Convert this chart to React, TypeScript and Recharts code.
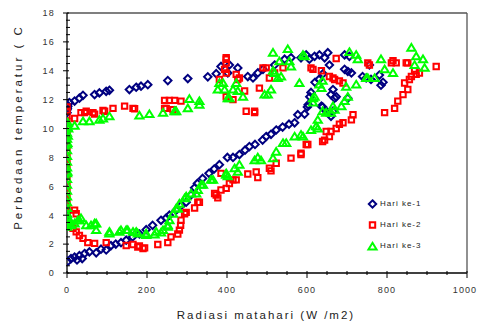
import React from "react";
import { ScatterChart, Scatter, XAxis, YAxis, Label } from "recharts";

// Radiasi matahari (W/m2), Perbedaan temperatur (C)
const day1Points: [number, number][] = [
  [2, 0.8], [10, 1.0], [19, 1.1], [25, 0.9], [31, 1.2], [38, 1.0], [44, 1.35], [56, 1.46], [73, 1.4], [85, 1.65],
  [98, 1.6], [110, 1.9], [122, 2.0], [135, 2.1], [148, 2.27], [164, 2.5], [181, 2.7], [198, 3.0], [214, 3.3],
  [235, 3.65], [248, 3.8], [256, 4.0], [273, 4.35], [285, 4.65], [298, 4.9], [310, 5.4], [319, 5.9], [326, 6.2],
  [339, 6.55], [355, 6.9], [368, 7.2], [381, 7.5], [401, 8.0], [415, 8.0], [431, 8.2], [445, 8.5], [456, 8.75],
  [470, 8.9], [489, 9.2], [498, 9.45], [510, 9.6], [523, 9.9], [539, 10.1], [555, 10.3], [569, 10.4], [577, 10.96],
  [594, 11.0], [601, 11.5], [603, 11.65], [607, 12.2], [610, 12.5],
  [620, 13.2], [630, 13.4], [640, 13.8], [656, 14.4], [652, 15.25], [644, 14.9], [631, 15.1], [619, 15.0], [606, 14.8],
  [598, 15.1], [585, 14.9], [560, 14.9], [544, 14.8], [519, 14.4], [490, 14.1], [477, 13.85], [465, 13.5], [452, 13.6],
  [427, 14.2], [406, 14.4], [402, 13.85], [385, 14.3], [373, 13.8], [352, 13.58], [302, 13.46], [252, 13.32],
  [202, 13.04], [185, 12.93], [173, 12.86], [156, 12.7], [106, 12.65], [98, 12.58], [81, 12.47], [69, 12.35],
  [40, 12.3], [31, 12.1], [19, 11.9], [6, 11.8], [0, 11.65], [0, 11.5], [1, 11.4], [0, 11.3], [2, 11.55], [0, 11.1],
  [0, 3.9], [0, 4.2],
  [694, 15.1], [706, 15.0], [694, 14.1], [702, 13.95], [711, 13.85], [739, 13.6], [748, 13.5], [756, 14.4],
  [760, 13.4], [781, 13.7], [785, 13.0], [790, 13.2],
  [636, 11.55], [656, 11.1], [665, 11.2], [660, 12.35], [665, 12.7], [669, 12.1], [673, 12.2], [702, 12.1],
  [639, 11.5], [648, 11.2], [660, 10.85],
];

const day2Points: [number, number][] = [
  [0, 11.5], [0, 11.2], [0, 10.9], [0, 10.5], [0, 10.0], [0, 9.5], [0, 9.0], [0, 8.5], [0, 8.0], [0, 7.5],
  [0, 7.0], [0, 6.5], [0, 6.0], [0, 5.5], [0, 5.0], [0, 4.5], [0, 4.2],
  [19, 4.35], [23, 4.1], [15, 3.1], [23, 2.85], [31, 2.6], [40, 2.4], [52, 2.1], [69, 2.05], [98, 2.1],
  [148, 1.9], [165, 1.97], [177, 1.8], [181, 1.88], [190, 1.7], [194, 1.74], [227, 1.97], [252, 2.1], [260, 2.5],
  [277, 2.7], [281, 2.97], [284, 3.3], [285, 3.65], [294, 4.1], [298, 4.2], [319, 4.5], [327, 4.9], [331, 4.9],
  [369, 5.5], [373, 5.4], [377, 5.2], [385, 5.75], [398, 5.86], [406, 6.2], [415, 6.45], [423, 6.45], [452, 6.85],
  [473, 7.0], [477, 6.6], [506, 7.25], [510, 7.07], [523, 7.6], [560, 7.95], [585, 8.2], [585, 8.3], [598, 8.9],
  [602, 8.9], [639, 9.1], [644, 9.2], [648, 9.8], [656, 9.45], [660, 9.8], [673, 10.0], [681, 10.3], [690, 10.4],
  [711, 10.6], [715, 10.96], [385, 6.9],
  [19, 10.7], [35, 11.1], [44, 11.1], [48, 11.2], [65, 11.1], [69, 11.0], [90, 11.25], [94, 11.2], [115, 11.4],
  [144, 11.55], [165, 11.4], [169, 11.37], [244, 11.95], [256, 11.95], [269, 11.95], [285, 11.9], [244, 11.4],
  [248, 11.4], [265, 11.3],
  [381, 13.4], [394, 14.1], [398, 14.8], [398, 14.9], [398, 14.55], [398, 13.85], [398, 12.2], [415, 12.0],
  [423, 13.75], [427, 13.4], [431, 13.5], [444, 12.6], [448, 11.2], [469, 11.2], [469, 11.1], [481, 12.8],
  [490, 14.2], [498, 14.2], [506, 13.5], [519, 13.85], [540, 14.2], [610, 14.2], [615, 14.1], [636, 14.0],
  [656, 13.6], [669, 13.4], [673, 14.85], [681, 13.3], [665, 13.5], [690, 13.15], [752, 14.55], [756, 14.4],
  [811, 14.55], [823, 14.55], [848, 14.55], [815, 14.7], [852, 14.55], [923, 14.3],
  [794, 11.1], [819, 11.4], [827, 11.9], [840, 12.35], [852, 12.7], [844, 13.15], [856, 13.4], [861, 13.6],
  [873, 13.75], [881, 13.85], [869, 14.0],
];

const day3Points: [number, number][] = [
  [0, 3.2], [0, 3.5], [1, 3.8], [0, 4.1], [0, 4.5], [0, 4.9], [0, 5.3], [0, 5.7], [0, 6.1], [0, 6.5], [0, 6.9],
  [0, 7.3], [0, 7.7], [0, 8.1], [0, 8.5], [0, 8.9], [0, 9.3], [0, 9.7], [1, 10.1], [0, 10.4], [2, 9.5], [1, 9.0],
  [3, 10.0], [1, 7.0], [5, 3.4], [8, 3.6], [10, 3.3],
  [19, 3.43], [27, 3.65], [31, 3.65], [35, 3.8], [48, 3.3], [60, 3.3], [69, 3.43], [73, 3.43], [73, 2.97],
  [106, 2.74], [106, 2.85], [131, 2.85], [135, 2.97], [148, 2.97], [152, 2.97], [165, 2.85], [173, 2.85],
  [177, 2.74], [198, 2.62], [198, 2.74], [219, 2.67], [223, 2.85], [235, 2.8], [240, 2.97], [252, 3.2], [252, 3.3],
  [256, 3.65], [265, 4.1], [273, 4.47], [277, 4.47], [281, 4.8], [294, 5.17], [298, 5.3], [310, 5.5], [323, 5.5],
  [327, 5.75], [335, 6.1], [340, 6.1], [360, 6.45], [365, 6.45], [398, 6.8], [398, 6.9], [402, 6.7], [419, 7.25],
  [427, 7.0], [431, 7.5], [469, 7.8], [477, 8.0], [485, 7.8], [515, 7.95], [523, 8.4], [540, 9.0], [548, 9.0],
  [569, 9.45], [585, 9.57], [590, 9.45], [610, 9.9], [623, 10.15], [627, 10.0], [627, 10.6], [639, 11.2],
  [648, 11.1], [660, 11.1], [665, 11.55], [669, 11.3], [686, 11.55], [694, 11.9], [702, 12.2], [723, 13.05],
  [615, 11.8], [619, 12.2],
  [2, 10.4], [19, 10.2], [40, 10.5], [56, 10.5], [81, 10.6], [90, 10.7], [106, 10.85], [181, 10.9], [206, 11.0],
  [240, 11.1], [269, 11.2], [273, 11.2], [302, 11.4], [306, 12.05], [331, 11.65], [331, 11.9], [377, 12.7],
  [381, 13.15], [390, 13.15], [394, 12.7], [402, 12.1], [406, 12.1], [415, 12.7], [423, 13.15], [427, 12.6],
  [440, 12.2], [494, 12.35], [502, 12.35], [510, 12.7], [519, 13.85], [515, 14.0], [527, 13.5], [531, 14.65],
  [515, 15.25], [552, 15.5], [556, 14.65], [560, 14.3], [535, 13.6], [581, 13.15], [594, 15.0], [590, 15.1],
  [615, 12.1], [631, 13.05], [636, 12.8], [639, 13.3], [698, 12.9], [706, 15.3], [723, 15.1], [727, 14.8],
  [748, 13.5], [752, 13.5], [769, 13.5], [785, 14.8], [794, 14.1], [815, 13.85], [861, 15.6], [873, 15.0],
  [890, 14.8], [869, 14.4], [894, 14.2],
];

const xTicks = Array.from({ length: 21 }, (_, i) => i * 50);
const xLabelEvery = 200;
const yTicks = Array.from({ length: 37 }, (_, i) => i * 0.5);
const yLabelEvery = 2;

const seriesNames = ["Hari ke-1", "Hari ke-2", "Hari ke-3"];
const seriesColors = ["#000080", "#FF0000", "#00FF00"];

const toData = (pts: [number, number][]) => pts.map(([r, t]) => ({ r, t }));

const FONT = "'Liberation Sans', Arial, sans-serif";

const diamondPath = (cx: number, cy: number, s = 3.7) =>
  `M${cx},${cy - s}L${cx + s},${cy}L${cx},${cy + s}L${cx - s},${cy}Z`;
const squarePath = (cx: number, cy: number, s = 2.7) =>
  `M${cx - s},${cy - s}L${cx + s},${cy - s}L${cx + s},${cy + s}L${cx - s},${cy + s}Z`;
const trianglePath = (cx: number, cy: number, s = 3.7) =>
  `M${cx},${cy - s}L${cx + s * 1.1},${cy + s * 0.8}L${cx - s * 1.1},${cy + s * 0.8}Z`;

const makeShape = (kind: number, color: string) => (props: any) => {
  const { cx, cy } = props;
  if (cx == null || cy == null) return <g />;
  const d = kind === 0 ? diamondPath(cx, cy) : kind === 1 ? squarePath(cx, cy) : trianglePath(cx, cy);
  return <path d={d} fill="none" stroke={color} strokeWidth={2} />;
};

const isMultiple = (v: number, step: number) => Math.abs(v / step - Math.round(v / step)) < 1e-6;

const XTick = (props: any) => {
  const { x, y, payload } = props;
  const v = payload.value;
  const major = isMultiple(v, xLabelEvery);
  const last = v === 1000;
  return (
    <g>
      <line x1={x} x2={x} y1={y - 2} y2={y + (major ? 5 : 2)} stroke="#000" strokeWidth={1} />
      {major && (
        <text
          x={last ? x - 2 : x}
          y={y + 20}
          textAnchor="middle"
          fontFamily={FONT}
          fontSize={9}
          letterSpacing={1.1}
          fill="#333"
        >
          {v}
        </text>
      )}
    </g>
  );
};

const YTick = (props: any) => {
  const { x, y, payload } = props;
  const v = payload.value;
  const major = isMultiple(v, yLabelEvery);
  return (
    <g>
      {major ? (
        <line x1={x - 4} x2={x + 2} y1={y} y2={y} stroke="#000" strokeWidth={1} />
      ) : (
        <line x1={x - 1} x2={x + 3} y1={y} y2={y} stroke="#000" strokeWidth={1} />
      )}
      {major && (
        <text x={x - 12} y={y + 3.3} textAnchor="end" fontFamily={FONT} fontSize={9} letterSpacing={1.2} fill="#333">
          {v}
        </text>
      )}
    </g>
  );
};

export default function App() {
  const W = 477;
  const H = 323;
  return (
    <div style={{ position: "absolute", left: 0, top: 0, width: W, height: H, background: "#fff" }}>
      <ScatterChart width={W} height={H} margin={{ top: 12, right: 9, bottom: 49, left: 66 }}>
        <XAxis
          xAxisId="x"
          type="number"
          dataKey="r"
          domain={[0, 1000]}
          ticks={xTicks}
          interval={0}
          allowDataOverflow
          height={1}
          tickSize={0}
          tickMargin={0}
          tick={<XTick />}
          tickLine={false}
          axisLine={{ stroke: "#000", strokeWidth: 1.3 }}
        >
          <Label
            content={() => (
              <text
                x={266}
                y={319}
                textAnchor="middle"
                fontFamily={FONT}
                fontSize={11.5}
                letterSpacing={2}
                fill="#222"
              >
                Radiasi matahari (W /m2)
              </text>
            )}
          />
        </XAxis>
        <XAxis
          xAxisId="top"
          orientation="top"
          type="number"
          domain={[0, 1000]}
          allowDataOverflow
          height={1}
          tick={false}
          tickLine={false}
          axisLine={{ stroke: "#555", strokeWidth: 1.3 }}
        />
        <YAxis
          yAxisId="y"
          type="number"
          dataKey="t"
          domain={[0, 18]}
          ticks={yTicks}
          interval={0}
          allowDataOverflow
          width={1}
          tickSize={0}
          tickMargin={0}
          tick={<YTick />}
          tickLine={false}
          axisLine={{ stroke: "#000", strokeWidth: 1.3 }}
        >
          <Label
            content={() => (
              <text
                x={22}
                y={127}
                transform="rotate(-90, 22, 127)"
                textAnchor="middle"
                fontFamily={FONT}
                fontSize={11.5}
                letterSpacing={3}
                fill="#222"
              >
                Perbedaan temperatur ( C
              </text>
            )}
          />
        </YAxis>
        <YAxis
          yAxisId="right"
          orientation="right"
          type="number"
          domain={[0, 18]}
          allowDataOverflow
          width={1}
          tick={false}
          tickLine={false}
          axisLine={{ stroke: "#555", strokeWidth: 1.3 }}
        />
        <Scatter
          name={seriesNames[0]}
          data={toData(day1Points)}
          xAxisId="x"
          yAxisId="y"
          isAnimationActive={false}
          shape={makeShape(0, seriesColors[0])}
        />
        <Scatter
          name={seriesNames[1]}
          data={toData(day2Points)}
          xAxisId="x"
          yAxisId="y"
          isAnimationActive={false}
          shape={makeShape(1, seriesColors[1])}
        />
        <Scatter
          name={seriesNames[2]}
          data={toData(day3Points)}
          xAxisId="x"
          yAxisId="y"
          isAnimationActive={false}
          shape={makeShape(2, seriesColors[2])}
        />
      </ScatterChart>
      <div style={{ position: "absolute", left: 366, top: 193, fontFamily: FONT }}>
        {seriesNames.map((name, i) => (
          <div key={name} style={{ display: "flex", alignItems: "center", height: 21 }}>
            <svg width={13} height={14} style={{ display: "block" }}>
              <path
                d={i === 0 ? diamondPath(6.5, 7) : i === 1 ? squarePath(6.5, 7) : trianglePath(6.5, 7.5)}
                fill="none"
                stroke={seriesColors[i]}
                strokeWidth={2}
              />
            </svg>
            <span style={{ fontSize: 8, letterSpacing: 1, color: "#222", marginLeft: 1 }}>{name}</span>
          </div>
        ))}
      </div>
    </div>
  );
}
